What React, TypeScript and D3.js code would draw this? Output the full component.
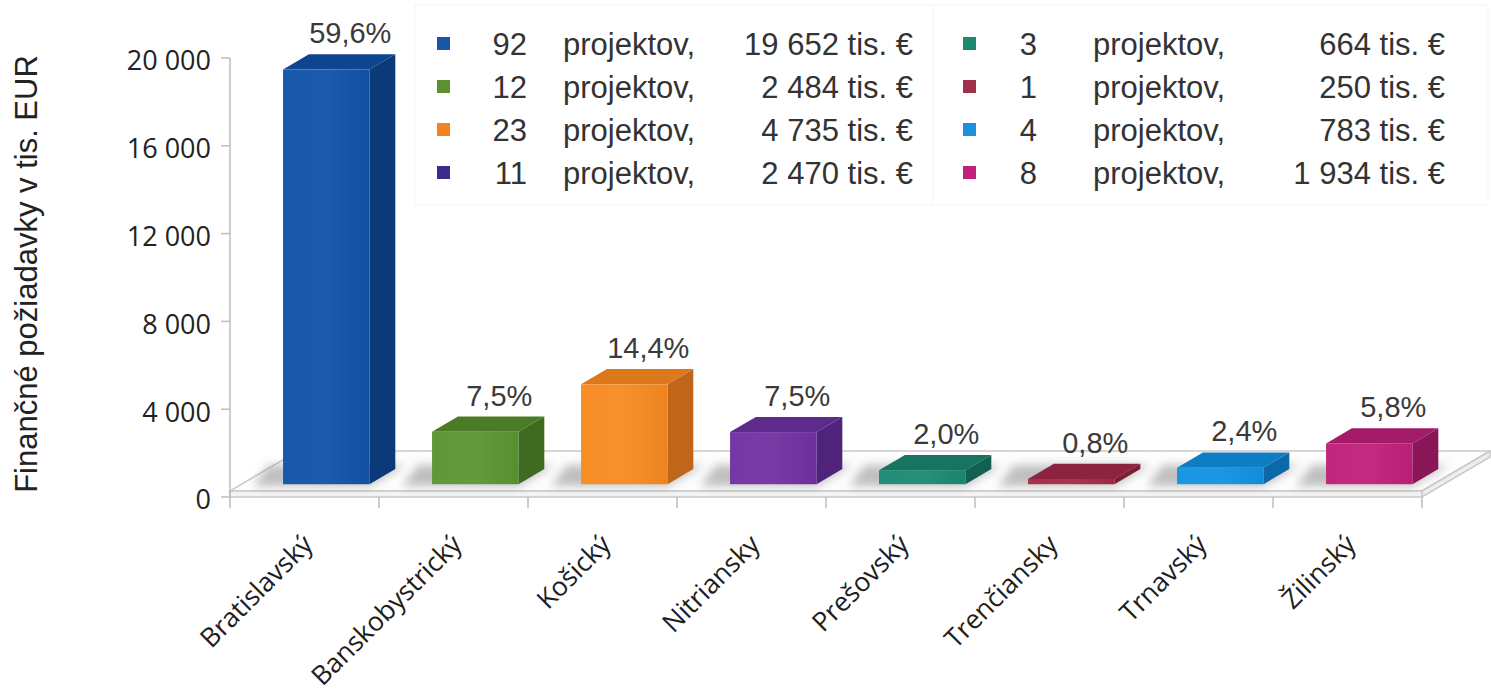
import React from 'react';
import * as d3 from 'd3';

const categories = ['Bratislavský', 'Banskobystrický', 'Košický', 'Nitriansky', 'Prešovský', 'Trenčiansky', 'Trnavský', 'Žilinský'];
const amounts = [19652, 2484, 4735, 2470, 664, 250, 783, 1934];
const shares = ['59,6%', '7,5%', '14,4%', '7,5%', '2,0%', '0,8%', '2,4%', '5,8%'];
const projectCounts = [92, 12, 23, 11, 3, 1, 4, 8];
const yTicks = [0, 4000, 8000, 12000, 16000, 20000];

// front / side / top shades per region
const barColors = [
  ['#1152a9', '#0b3a78', '#0d458f'],
  ['#5b9531', '#3e6b1f', '#4a7c26'],
  ['#f78a20', '#c0661a', '#de781c'],
  ['#7131a2', '#4e2379', '#5e2a8b'],
  ['#1b8a73', '#12604f', '#177462'],
  ['#a42a49', '#781e35', '#8c2440'],
  ['#1392e2', '#0b69a8', '#0f7dc4'],
  ['#c0207b', '#8a1658', '#a31b69'],
];
const legendColors = ['#1a56a6', '#5a9131', '#f58221', '#3b2b8b', '#1b8a71', '#a13049', '#1b91e0', '#c0217b'];

const W = 1491;
const H = 693;
const left = 230;
const right = 1422;
const floorY = 497;
const depthDx = 68;
const depthDy = -40;

const sk = d3.formatLocale({ decimal: ',', thousands: ' ', grouping: [3], currency: ['', ''] });
const fmt = sk.format(',d');

export default function App() {
  const x = d3.scaleBand<string>().domain(categories).range([left, right]);
  const yAxis = d3.scaleLinear().domain([0, 20000]).range([floorY, 58]);
  // bars stand a third of the way into the floor, so their own plane
  const t0 = 0.32;
  const t1 = 0.7;
  const baseY = floorY + depthDy * t0;
  const yBar = d3.scaleLinear().domain([0, 20000]).range([baseY, baseY - 422]);
  const bw = x.bandwidth() * 0.58;
  const bdx = depthDx * (t1 - t0);
  const bdy = depthDy * (t1 - t0);

  const font = '"Liberation Sans", Arial, sans-serif';
  const fontTicks = '"Open Sans", sans-serif';

  return (
    <svg width={W} height={H} style={{ position: 'absolute', left: 0, top: 0, background: '#fff' }}>
      <defs>
        <filter id="blur" x="-50%" y="-50%" width="200%" height="200%">
          <feGaussianBlur stdDeviation="5" />
        </filter>
        <linearGradient id="shine" x1="0" x2="1" y1="0" y2="0">
          <stop offset="0" stopColor="#fff" stopOpacity="0.03" />
          <stop offset="0.5" stopColor="#fff" stopOpacity="0.05" />
          <stop offset="1" stopColor="#000" stopOpacity="0.04" />
        </linearGradient>
      </defs>

      {/* legend boxes */}
      <rect x={415} y={5} width={518} height={200} fill="#fff" stroke="#f6f6f6" />
      <rect x={933} y={5} width={555} height={200} fill="#fff" stroke="#f6f6f6" />

      {/* floor */}
      <polygon
        points={`${left},${floorY - 6} ${right},${floorY - 6} ${right + depthDx},${floorY - 6 + depthDy} ${left + depthDx},${floorY - 6 + depthDy}`}
        fill="#fdfdfd"
        stroke="#c9c9c9"
        strokeWidth={1.5}
      />
      <polygon
        points={`${left},${floorY - 6} ${right},${floorY - 6} ${right},${floorY} ${left},${floorY}`}
        fill="#f3f3f3"
        stroke="#c9c9c9"
        strokeWidth={1.5}
      />
      <polygon
        points={`${right},${floorY - 6} ${right + depthDx},${floorY - 6 + depthDy} ${right + depthDx},${floorY + depthDy} ${right},${floorY}`}
        fill="#eeeeee"
        stroke="#c9c9c9"
        strokeWidth={1.5}
      />

      {/* y axis */}
      <line x1={left} x2={left} y1={yAxis(20000)} y2={floorY} stroke="#bdbdbd" strokeWidth={1.5} />
      {yTicks.map((v) => (
        <g key={v}>
          <line x1={left - 9} x2={left} y1={yAxis(v)} y2={yAxis(v)} stroke="#bdbdbd" strokeWidth={1.5} />
          <text x={211} y={yAxis(v) + 3} dy="0.35em" textAnchor="end" fontFamily={fontTicks} fontSize={27} fill="#222">
            {fmt(v)}
          </text>
        </g>
      ))}

      {/* x ticks */}
      {categories.map((c, i) => (
        <line key={c} x1={left + x.step() * i} x2={left + x.step() * i} y1={floorY} y2={floorY + 11} stroke="#bdbdbd" strokeWidth={1.5} />
      ))}
      <line x1={right} x2={right} y1={floorY} y2={floorY + 11} stroke="#bdbdbd" strokeWidth={1.5} />

      {/* shadows */}
      {categories.map((c) => {
        const x0 = x(c)! + (x.bandwidth() - bw) / 2 + depthDx * t0;
        const yb = baseY;
        return (
          <polygon
            key={'s' + c}
            points={`${x0 - 30},${yb + 2} ${x0 + bw},${yb + 2} ${x0 + bw + bdx + 10},${yb + bdy - 4} ${x0 + bdx - 40},${yb + bdy - 4}`}
            fill="#8c8c8c"
            opacity={0.55}
            filter="url(#blur)"
          />
        );
      })}

      {/* bars */}
      {categories.map((c, i) => {
        const x0 = x(c)! + (x.bandwidth() - bw) / 2 + depthDx * t0;
        const x1 = x0 + bw;
        const yt = yBar(amounts[i]);
        const yb = yBar(0);
        const [front, side, top] = barColors[i];
        return (
          <g key={c}>
            <polygon points={`${x1},${yb} ${x1 + bdx},${yb + bdy} ${x1 + bdx},${yt + bdy} ${x1},${yt}`} fill={side} />
            <polygon points={`${x0},${yt} ${x0 + bdx},${yt + bdy} ${x1 + bdx},${yt + bdy} ${x1},${yt}`} fill={top} />
            <rect x={x0} y={yt} width={bw} height={yb - yt} fill={front} />
            <rect x={x0} y={yt} width={bw} height={yb - yt} fill="url(#shine)" />
            <text
              x={x0 + bw / 2 + 24}
              y={yt + bdy - 11}
              textAnchor="middle"
              fontFamily={font}
              fontSize={29}
              fill="#3a3a3a"
            >
              {shares[i]}
            </text>
          </g>
        );
      })}

      {/* category labels */}
      {categories.map((c) => (
        <text
          key={'l' + c}
          transform={`translate(${x(c)! + x.bandwidth() / 2 + 10},${floorY + 49}) rotate(-45)`}
          textAnchor="end"
          fontFamily={fontTicks}
          fontSize={26.5}
          fill="#1e1e1e"
        >
          {c}
        </text>
      ))}

      {/* y title */}
      <text transform="translate(37,274) rotate(-90)" textAnchor="middle" fontFamily={font} fontSize={31} fill="#222">
        Finančné požiadavky v tis. EUR
      </text>

      {/* legend */}
      {projectCounts.map((n, i) => {
        const col = i < 4 ? 0 : 1;
        const row = i % 4;
        const cy = 44 + row * 43;
        const sq = col === 0 ? 437 : 963;
        const countR = col === 0 ? 527 : 1037;
        const wordL = col === 0 ? 563 : 1093;
        const valR = col === 0 ? 913 : 1445;
        return (
          <g key={'lg' + i} fontFamily={font} fontSize={31} fill="#333">
            <rect x={sq} y={cy - 7} width={13} height={13} fill={legendColors[i]} />
            <text x={countR} y={cy + 11} textAnchor="end">{n}</text>
            <text x={wordL} y={cy + 11}>projektov,</text>
            <text x={valR} y={cy + 11} textAnchor="end">{fmt(amounts[i])} tis. €</text>
          </g>
        );
      })}
    </svg>
  );
}
